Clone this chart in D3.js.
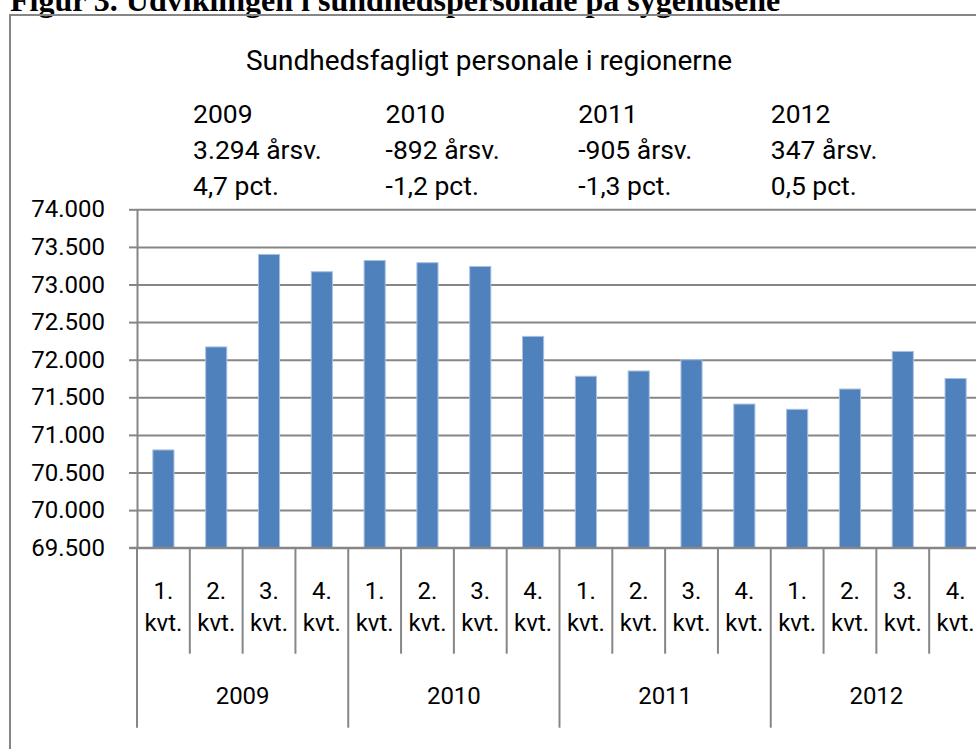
<!DOCTYPE html>
<html>
<head>
<meta charset="utf-8">
<script src="https://cdn.jsdelivr.net/npm/d3@7"></script>
<style>
  html, body { margin: 0; padding: 0; background: #fff; }
  svg { display: block; }
</style>
</head>
<body>
<svg id="chart" width="976" height="749"></svg>
<script>
// data
const years = ['2009', '2010', '2011', '2012'];
const quarters = ['1.', '2.', '3.', '4.'];
const staff = [70800, 72170, 73400, 73170, 73320, 73290, 73240, 72310,
               71780, 71850, 72000, 71410, 71340, 71610, 72110, 71750];
const yTicks = [69500, 70000, 70500, 71000, 71500, 72000, 72500, 73000, 73500, 74000];
const changeFte = ['3.294 årsv.', '-892 årsv.', '-905 årsv.', '347 årsv.'];
const changePct = ['4,7 pct.', '-1,2 pct.', '-1,3 pct.', '0,5 pct.'];

const svg = d3.select('#chart');
const font = 'Roboto, "Liberation Sans", sans-serif';
const grey = '#868686';

// danish number format
const dk = d3.formatLocale({ decimal: ',', thousands: '.', grouping: [3], currency: ['', ''] });
const fmt = dk.format(',');

// plot area (runs a bit past the right edge, like the original)
const plot = { left: 137, right: 982, top: 209.3, bottom: 547.7 };

// figure caption, cut off at the top like in the source
svg.append('text')
  .attr('x', 10)
  .attr('y', 11)
  .attr('font-family', '"Liberation Serif", "Times New Roman", serif')
  .attr('font-weight', 'bold')
  .attr('font-size', 32)
  .attr('fill', '#000')
  .text('Figur 3. Udviklingen i sundhedspersonale på sygehusene');

// frame
svg.append('rect')
  .attr('x', 10)
  .attr('y', 15)
  .attr('width', 1200)
  .attr('height', 1000)
  .attr('fill', 'none')
  .attr('stroke', grey)
  .attr('stroke-width', 2);

// scales
const x = d3.scaleBand()
  .domain(d3.range(staff.length))
  .range([plot.left, plot.right])
  .padding(0);

const y = d3.scaleLinear()
  .domain([yTicks[0], yTicks[yTicks.length - 1]])
  .range([plot.bottom, plot.top]);

// gridlines
svg.append('g')
  .attr('transform', `translate(${plot.left},0)`)
  .call(d3.axisRight(y).tickValues(yTicks).tickSize(plot.right - plot.left).tickFormat(''))
  .call(g => g.select('.domain').remove())
  .selectAll('line')
  .attr('stroke', grey)
  .attr('stroke-width', 2);

// y axis
const yAxis = svg.append('g')
  .attr('transform', `translate(${plot.left},0)`)
  .call(d3.axisLeft(y).tickValues(yTicks).tickSizeInner(8).tickSizeOuter(0).tickPadding(24).tickFormat(fmt));
yAxis.select('.domain').attr('stroke', grey).attr('stroke-width', 2);
yAxis.selectAll('line').attr('stroke', grey).attr('stroke-width', 2);
yAxis.selectAll('text')
  .attr('font-family', font)
  .attr('font-size', 24)
  .attr('fill', '#000');

// bars
const barW = x.bandwidth() / 2.5;
svg.append('g')
  .selectAll('rect')
  .data(staff)
  .enter().append('rect')
  .attr('x', (d, i) => x(i) + (x.bandwidth() - barW) / 2)
  .attr('y', d => y(d))
  .attr('width', barW)
  .attr('height', d => y(yTicks[0]) - y(d))
  .attr('fill', '#4f81bd')
  .attr('stroke', '#a9c1e0')
  .attr('stroke-width', 1);

// x axis line
svg.append('line')
  .attr('x1', plot.left - 8)
  .attr('x2', plot.right)
  .attr('y1', plot.bottom)
  .attr('y2', plot.bottom)
  .attr('stroke', grey)
  .attr('stroke-width', 2);

// category dividers, long ones between years
const xg = svg.append('g');
xg.selectAll('line')
  .data(d3.range(staff.length + 1))
  .enter().append('line')
  .attr('x1', i => plot.left + i * x.bandwidth())
  .attr('x2', i => plot.left + i * x.bandwidth())
  .attr('y1', plot.bottom)
  .attr('y2', i => plot.bottom + (i % 4 === 0 ? 180 : 106))
  .attr('stroke', grey)
  .attr('stroke-width', 2);

// quarter labels
const ql = xg.selectAll('.q')
  .data(staff)
  .enter().append('text')
  .attr('class', 'q')
  .attr('text-anchor', 'middle')
  .attr('font-family', font)
  .attr('font-size', 24)
  .attr('fill', '#000');
ql.append('tspan')
  .attr('x', (d, i) => x(i) + x.bandwidth() / 2)
  .attr('y', 599)
  .text((d, i) => quarters[i % 4]);
ql.append('tspan')
  .attr('x', (d, i) => x(i) + x.bandwidth() / 2)
  .attr('y', 631)
  .text('kvt.');

// year labels
xg.selectAll('.yr')
  .data(years)
  .enter().append('text')
  .attr('class', 'yr')
  .attr('x', (d, i) => x(i * 4) + 2 * x.bandwidth())
  .attr('y', 704)
  .attr('text-anchor', 'middle')
  .attr('font-family', font)
  .attr('font-size', 24)
  .attr('fill', '#000')
  .text(d => d);

// chart title
svg.append('text')
  .attr('x', 489)
  .attr('y', 70)
  .attr('text-anchor', 'middle')
  .attr('font-family', font)
  .attr('font-size', 28)
  .attr('fill', '#000')
  .text('Sundhedsfagligt personale i regionerne');

// yearly change notes above the plot
const notes = svg.append('g')
  .selectAll('text')
  .data(years)
  .enter().append('text')
  .attr('font-family', font)
  .attr('font-size', 26.5)
  .attr('fill', '#000');
[d => d, (d, i) => changeFte[i], (d, i) => changePct[i]].forEach((f, row) => {
  notes.append('tspan')
    .attr('x', (d, i) => 193 + i * 192.6)
    .attr('y', 123 + row * 36)
    .text(f);
});
</script>
</body>
</html>
